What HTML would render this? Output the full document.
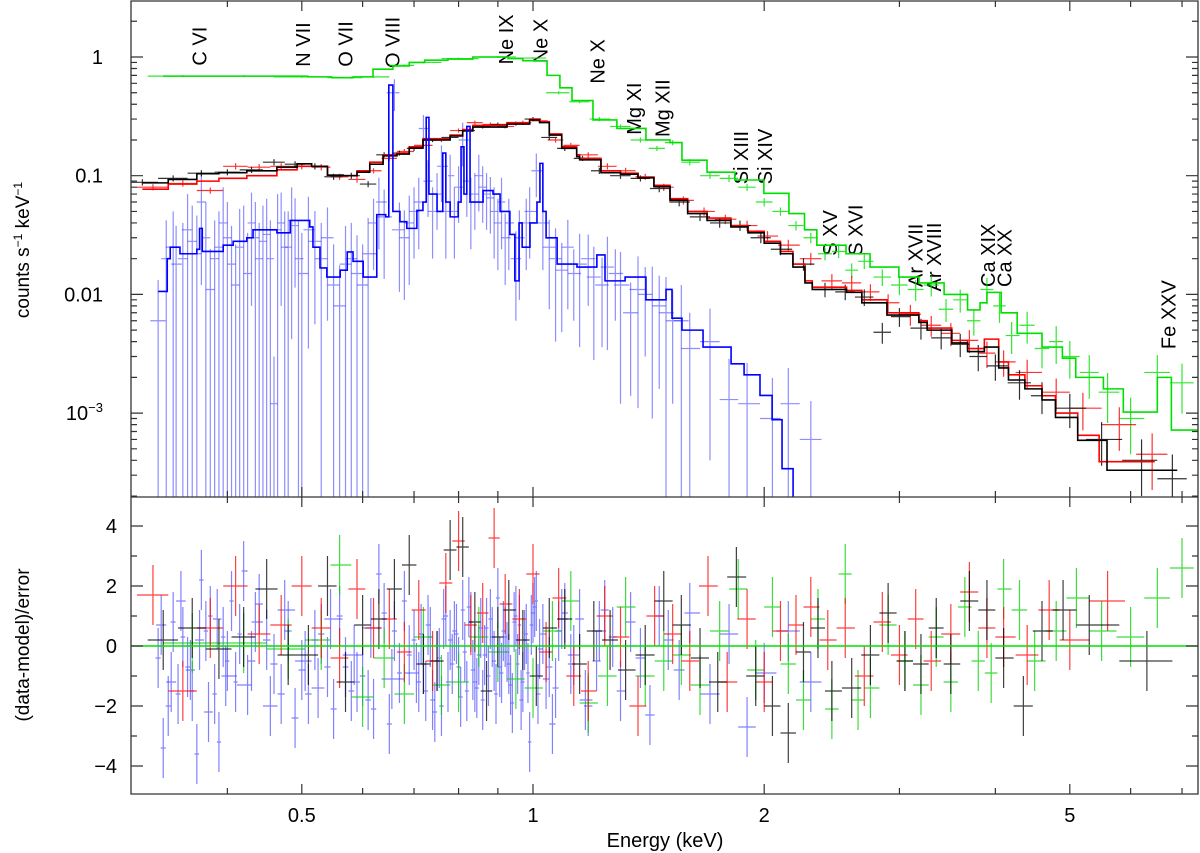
<!DOCTYPE html>
<html><head><meta charset="utf-8"><style>
html,body{margin:0;padding:0;background:#fff}
svg{display:block;font-family:"Liberation Sans",sans-serif}
</style></head><body>
<svg id="chart" width="1200" height="853" viewBox="0 0 1200 853" xmlns="http://www.w3.org/2000/svg">
<g id="lbls"></g>
<g id="topPanel"></g>
<g id="botPanel"></g>
<g id="axes"></g>
<text transform="translate(29,250) rotate(-90)" text-anchor="middle" font-size="19">counts s<tspan font-size="12" dy="-7">−1</tspan><tspan dy="7"> keV</tspan><tspan font-size="12" dy="-7">−1</tspan></text>
<text transform="translate(29,645) rotate(-90)" text-anchor="middle" font-size="19">(data-model)/error</text>
<text x="665" y="847" text-anchor="middle" font-size="20">Energy (keV)</text>
</svg>
<script>
// ---- data ----
const blackModelE=[0.31,0.335,0.365,0.39,0.424,0.464,0.493,0.515,0.54,0.566,0.59,0.613,0.638,0.665,0.69,0.719,0.78,0.81,0.835,0.925,0.99,1.02,1.05,1.09,1.14,1.15,1.226,1.3,1.37,1.437,1.508,1.59,1.685,1.81,1.905,2.0,2.1,2.18,2.26,2.31,2.56,2.68,2.89,3.18,3.26,3.51,3.68,3.87,4.04,4.16,4.37,4.6,4.79,5.12,5.59,6.9];
const blackModelV=[0.087,0.093,0.104,0.106,0.11,0.118,0.126,0.12,0.101,0.1,0.107,0.125,0.147,0.152,0.171,0.2,0.216,0.238,0.257,0.272,0.295,0.28,0.22,0.17,0.145,0.136,0.106,0.103,0.096,0.081,0.062,0.048,0.042,0.037,0.033,0.027,0.022,0.017,0.0125,0.011,0.0104,0.0085,0.0067,0.0058,0.005,0.0039,0.0033,0.0036,0.0024,0.0019,0.0016,0.00129,0.00092,0.00059,0.00033,0.00033];
const redModelE=[0.31,0.335,0.365,0.39,0.424,0.464,0.493,0.515,0.54,0.566,0.59,0.613,0.638,0.665,0.69,0.719,0.78,0.81,0.835,0.925,0.99,1.02,1.05,1.09,1.14,1.15,1.226,1.3,1.37,1.437,1.508,1.59,1.685,1.81,1.905,2.0,2.1,2.18,2.26,2.31,2.56,2.68,2.89,3.18,3.26,3.51,3.68,3.87,4.04,4.16,4.37,4.6,4.79,5.12,5.46,6.45];
const redModelV=[0.077,0.085,0.09,0.095,0.1,0.112,0.12,0.12,0.101,0.1,0.11,0.13,0.15,0.155,0.175,0.205,0.22,0.245,0.265,0.28,0.3,0.285,0.225,0.175,0.15,0.14,0.11,0.105,0.097,0.083,0.064,0.05,0.044,0.038,0.034,0.028,0.023,0.018,0.013,0.0115,0.0108,0.009,0.007,0.006,0.0052,0.0041,0.0035,0.0042,0.0027,0.0021,0.0017,0.0014,0.001,0.00065,0.00039,0.00039];
const greenModelE=[0.33,0.509,0.547,0.583,0.619,0.657,0.69,0.723,0.775,0.835,0.928,0.97,1.043,1.084,1.124,1.197,1.286,1.403,1.508,1.563,1.685,1.832,1.998,2.154,2.257,2.342,2.556,2.747,2.995,3.181,3.43,3.68,3.82,3.90,4.07,4.27,4.60,4.89,5.09,5.53,5.87,6.50,6.78,7.34];
const greenModelV=[0.69,0.68,0.67,0.68,0.79,0.84,0.9,0.94,0.96,1.0,0.97,0.93,0.7,0.55,0.43,0.295,0.25,0.2,0.19,0.135,0.107,0.092,0.071,0.048,0.035,0.026,0.022,0.017,0.014,0.0125,0.01,0.0074,0.0085,0.0104,0.007,0.0047,0.0036,0.0029,0.002,0.0016,0.00102,0.002,0.00072,0.00072];
const blueModelE=[0.325,0.334,0.337,0.347,0.365,0.368,0.371,0.395,0.407,0.424,0.432,0.464,0.483,0.512,0.517,0.528,0.539,0.561,0.573,0.583,0.601,0.626,0.643,0.649,0.657,0.671,0.685,0.706,0.719,0.726,0.732,0.75,0.763,0.770,0.780,0.799,0.806,0.813,0.820,0.828,0.861,0.887,0.906,0.933,0.947,0.959,0.968,0.991,1.012,1.021,1.030,1.040,1.075,1.141,1.211,1.241,1.318,1.403,1.490,1.517,1.563,1.665,1.811,1.883,1.975,2.048,2.110,2.181];
const blueModelV=[0.0106,0.020,0.025,0.022,0.024,0.036,0.023,0.026,0.028,0.030,0.035,0.033,0.042,0.037,0.025,0.0167,0.014,0.016,0.0228,0.019,0.014,0.047,0.045,0.58,0.05,0.041,0.036,0.051,0.06,0.31,0.07,0.05,0.155,0.06,0.045,0.06,0.175,0.07,0.26,0.06,0.075,0.07,0.05,0.032,0.013,0.04,0.025,0.04,0.06,0.127,0.05,0.03,0.018,0.017,0.0215,0.013,0.014,0.009,0.011,0.0063,0.005,0.0036,0.0026,0.0021,0.00141,0.00088,0.00034,0.00015];

const blackDataE=[0.31,0.34,0.37,0.40,0.43,0.46,0.49,0.52,0.55,0.58,0.61,0.64,0.67,0.70,0.74,0.78,0.82,0.86,0.90,0.95,1.0,1.05,1.1,1.16,1.22,1.3,1.38,1.46,1.55,1.65,1.75,1.86,1.98,2.1,2.25,2.4,2.55,2.7,2.85,3.0,3.2,3.4,3.6,3.8,4.0,4.3,4.6,5.0,5.5,6.2,6.8];
const blackDataV=[0.088,0.095,0.105,0.107,0.112,0.13,0.125,0.12,0.098,0.1,0.085,0.15,0.155,0.17,0.2,0.21,0.24,0.26,0.27,0.275,0.3,0.21,0.17,0.14,0.11,0.1,0.095,0.078,0.06,0.045,0.04,0.038,0.03,0.024,0.018,0.011,0.0105,0.0095,0.0048,0.0065,0.0052,0.0043,0.0038,0.0030,0.0025,0.0018,0.0014,0.0011,0.0006,0.0004,0.00028];
const blackDataErr=[0.06,0.06,0.06,0.06,0.06,0.06,0.06,0.06,0.06,0.06,0.06,0.05,0.05,0.05,0.04,0.04,0.04,0.04,0.04,0.04,0.04,0.05,0.05,0.05,0.06,0.06,0.06,0.07,0.08,0.08,0.09,0.1,0.1,0.11,0.12,0.14,0.15,0.16,0.2,0.18,0.2,0.2,0.22,0.25,0.25,0.28,0.3,0.32,0.4,0.5,0.6];
const redDataE=[0.32,0.35,0.38,0.41,0.44,0.47,0.50,0.53,0.56,0.59,0.62,0.65,0.68,0.72,0.76,0.80,0.84,0.88,0.92,0.97,1.02,1.07,1.12,1.18,1.25,1.32,1.4,1.48,1.57,1.67,1.78,1.9,2.02,2.15,2.3,2.45,2.6,2.75,2.9,3.1,3.3,3.5,3.7,3.9,4.1,4.4,4.8,5.2,5.8,6.4];
const redDataV=[0.08,0.086,0.075,0.12,0.118,0.12,0.12,0.118,0.098,0.093,0.11,0.14,0.16,0.18,0.2,0.24,0.28,0.27,0.26,0.28,0.29,0.2,0.18,0.15,0.12,0.11,0.098,0.08,0.062,0.05,0.043,0.038,0.031,0.026,0.02,0.013,0.0125,0.0105,0.0085,0.0068,0.0055,0.0047,0.0041,0.0032,0.0027,0.0022,0.0015,0.0011,0.0008,0.00045];
const redDataErr=[0.06,0.06,0.06,0.06,0.06,0.06,0.06,0.06,0.06,0.06,0.05,0.05,0.05,0.04,0.04,0.04,0.04,0.04,0.04,0.04,0.04,0.05,0.05,0.05,0.06,0.06,0.06,0.07,0.08,0.08,0.09,0.1,0.1,0.11,0.12,0.14,0.15,0.16,0.18,0.2,0.2,0.22,0.22,0.25,0.25,0.28,0.3,0.35,0.4,0.5];
const greenDataE=[0.35,0.42,0.5,0.58,0.62,0.68,0.72,0.8,0.9,1.0,1.08,1.15,1.22,1.3,1.38,1.45,1.52,1.6,1.7,1.8,1.9,2.0,2.1,2.2,2.3,2.4,2.5,2.6,2.7,2.85,3.0,3.15,3.3,3.45,3.6,3.75,3.9,4.05,4.2,4.4,4.6,4.8,5.0,5.3,5.6,6.0,6.5,7.0];
const greenDataV=[0.69,0.69,0.68,0.67,0.68,0.85,0.9,0.97,1.0,0.98,0.5,0.42,0.3,0.26,0.2,0.17,0.19,0.13,0.1,0.095,0.08,0.06,0.05,0.038,0.03,0.022,0.023,0.016,0.019,0.014,0.012,0.011,0.012,0.0075,0.009,0.006,0.011,0.008,0.0045,0.0055,0.0035,0.004,0.003,0.0022,0.0015,0.0009,0.0022,0.0018];
const greenDataErr=[0.02,0.02,0.02,0.02,0.02,0.02,0.02,0.02,0.02,0.02,0.03,0.03,0.04,0.04,0.05,0.05,0.05,0.06,0.06,0.07,0.07,0.08,0.08,0.09,0.1,0.12,0.12,0.14,0.14,0.16,0.18,0.2,0.2,0.22,0.22,0.25,0.25,0.28,0.3,0.3,0.32,0.35,0.35,0.4,0.45,0.5,0.4,0.45];
const blueDataE=[0.325,0.34,0.35,0.36,0.37,0.38,0.39,0.40,0.41,0.42,0.43,0.44,0.45,0.46,0.47,0.48,0.49,0.50,0.52,0.54,0.56,0.58,0.60,0.62,0.63,0.66,0.68,0.70,0.72,0.74,0.76,0.79,0.81,0.84,0.86,0.88,0.90,0.92,0.95,0.98,1.01,1.05,1.09,1.13,1.18,1.23,1.28,1.34,1.40,1.46,1.52,1.6,1.7,1.8,1.9,2.05,2.15,2.3];
const blueDataV=[0.006,0.025,0.02,0.028,0.06,0.011,0.025,0.03,0.012,0.028,0.04,0.02,0.032,0.0012,0.04,0.025,0.038,0.015,0.028,0.03,0.008,0.02,0.012,0.04,0.06,0.5,0.03,0.05,0.25,0.05,0.12,0.05,0.2,0.07,0.08,0.065,0.04,0.03,0.02,0.04,0.11,0.025,0.016,0.015,0.02,0.012,0.015,0.007,0.01,0.008,0.006,0.0035,0.004,0.0013,0.0012,0.0009,0.0012,0.0006];
const blueDataErr=[1.2,1.0,1.0,1.0,0.8,1.2,1.0,1.0,1.2,1.0,0.8,1.0,1.0,1.5,0.8,1.0,0.7,1.2,0.8,0.8,1.2,1.0,1.2,0.6,0.6,0.3,0.7,0.6,0.3,0.6,0.5,0.6,0.4,0.5,0.5,0.5,0.6,0.6,0.7,0.6,0.4,0.7,0.7,0.6,0.6,0.7,0.6,0.8,0.7,0.8,0.8,1.0,0.9,1.2,1.2,1.2,1.0,1.1];
const blueData2E=[0.333,0.343,0.355,0.365,0.375,0.385,0.395,0.405,0.415,0.425,0.435,0.445,0.455,0.465,0.475,0.485,0.495,0.51,0.53,0.55,0.57,0.59,0.61,0.64,0.67,0.69,0.71,0.73,0.75,0.77,0.78,0.80,0.82,0.83,0.85,0.87,0.89,0.91,0.93,0.96,0.99,1.03,1.07,1.11,1.15,1.2,1.25,1.3,1.37,1.43,1.49,1.56];
const blueData2V=[0.02,0.018,0.035,0.022,0.03,0.02,0.04,0.018,0.025,0.015,0.03,0.028,0.02,0.035,0.025,0.042,0.02,0.035,0.02,0.012,0.018,0.015,0.022,0.045,0.035,0.04,0.06,0.09,0.07,0.05,0.1,0.08,0.09,0.06,0.1,0.07,0.05,0.06,0.04,0.03,0.05,0.04,0.02,0.025,0.018,0.014,0.017,0.012,0.011,0.009,0.007,0.006];
const blueData2Err=[1.1,1.1,1.0,1.1,1.0,1.1,1.0,1.1,1.1,1.2,1.0,1.0,1.1,1.0,1.0,0.9,1.1,0.9,1.0,1.2,1.1,1.1,1.0,0.7,0.7,0.7,0.6,0.5,0.5,0.6,0.5,0.5,0.5,0.6,0.5,0.5,0.6,0.6,0.6,0.7,0.6,0.6,0.8,0.7,0.8,0.8,0.8,0.9,0.9,0.9,1.0,1.0];

const blackResE=[0.33,0.36,0.39,0.42,0.45,0.48,0.51,0.54,0.57,0.60,0.63,0.66,0.69,0.72,0.75,0.78,0.81,0.84,0.87,0.90,0.93,0.97,1.01,1.05,1.1,1.15,1.2,1.26,1.32,1.4,1.48,1.56,1.65,1.74,1.84,1.95,2.05,2.15,2.25,2.35,2.45,2.6,2.75,2.9,3.05,3.2,3.35,3.5,3.7,3.9,4.1,4.35,4.6,4.9,5.3,6.3];
const blackResR=[0.2,0.6,-0.1,0.3,1.9,-0.3,-0.3,2.0,-1.2,0.7,0.9,1.9,2.7,-0.6,-0.5,3.2,3.3,0.8,-1.5,0.3,1.2,0.2,-1.0,0.6,0.9,-0.6,0.5,0.2,-0.8,-0.3,1.5,0.7,-0.4,-1.2,2.3,-1.0,-2.0,-2.9,-0.2,0.6,-1.5,-1.4,-0.3,1.1,-0.5,-0.6,0.6,-0.6,1.5,1.2,-0.4,-2.0,0.5,1.2,0.7,-0.5];
const redResE=[0.32,0.35,0.38,0.41,0.44,0.47,0.50,0.53,0.56,0.59,0.62,0.65,0.68,0.71,0.74,0.77,0.80,0.83,0.86,0.89,0.92,0.96,1.0,1.04,1.08,1.13,1.18,1.24,1.3,1.37,1.44,1.52,1.6,1.69,1.79,1.9,2.0,2.1,2.2,2.3,2.42,2.55,2.7,2.85,3.0,3.15,3.3,3.5,3.7,3.9,4.1,4.4,4.7,5.0,5.6];
const redResR=[1.7,-1.5,0.6,2.0,0.4,0.7,2.0,0.6,-0.4,1.9,0.6,0.9,-0.2,1.2,-0.5,2.1,3.5,0.7,1.1,3.6,1.4,0.9,2.4,-0.2,1.6,-1.0,-1.5,1.0,0.3,-2.0,1.0,0.4,-0.5,2.0,-1.2,0.9,-1.2,0.5,0.7,1.3,0.2,0.6,-1.0,0.8,-0.3,0.9,-0.5,0.4,1.8,0.6,0.3,-0.3,1.2,0.2,1.5];
const greenResE=[0.36,0.42,0.48,0.53,0.56,0.6,0.64,0.68,0.72,0.76,0.8,0.85,0.9,0.95,1.0,1.06,1.12,1.18,1.25,1.32,1.4,1.48,1.56,1.65,1.75,1.85,1.95,2.05,2.15,2.25,2.35,2.45,2.55,2.65,2.75,2.9,3.05,3.2,3.35,3.5,3.65,3.8,3.95,4.1,4.3,4.5,4.8,5.1,5.5,6.0,6.5,7.0];
const greenResR=[0.1,0.1,-0.1,0.2,2.7,-1.7,-0.4,-1.6,0.3,-1.3,-1.2,0.3,-0.2,-1.1,-1.4,0.5,1.5,-1.9,-1.0,1.3,-1.0,-0.5,-0.3,-1.3,0.5,1.9,-0.8,1.3,-0.6,-1.8,0.9,-2.1,2.4,-1.8,-1.4,0.7,-0.5,-1.3,0.3,-1.2,1.3,-0.5,-0.9,1.9,1.2,-0.5,0.5,1.6,0.5,0.3,1.6,2.6];
const blueResE=[0.325,0.33,0.335,0.34,0.345,0.35,0.355,0.36,0.365,0.37,0.375,0.38,0.385,0.39,0.395,0.40,0.405,0.41,0.415,0.42,0.43,0.44,0.45,0.46,0.47,0.48,0.49,0.50,0.51,0.52,0.53,0.54,0.55,0.56,0.57,0.58,0.59,0.60,0.61,0.62,0.63,0.64,0.65,0.66,0.67,0.68,0.69,0.70,0.71,0.72,0.73,0.74,0.75,0.76,0.77,0.78,0.79,0.80,0.81,0.82,0.83,0.84,0.85,0.86,0.87,0.88,0.89,0.90,0.91,0.92,0.93,0.94,0.95,0.96,0.97,0.98,0.99,1.0,1.01,1.02,1.04,1.06,1.08,1.1,1.12,1.15,1.18,1.21,1.24,1.27,1.3,1.34,1.38,1.42,1.46,1.5,1.55,1.6,1.7,1.8,1.9,2.0,2.15,2.3];
const blueResR=[-0.4,-3.4,-2.0,0.8,-1.6,0.3,-0.7,-1.5,-3.6,2.2,0.5,1.0,-1.6,-3.2,0.3,-0.5,1.5,-1.2,0.4,2.5,-0.5,1.4,0.2,-0.6,-1.6,0.5,-2.4,-0.8,-1.6,0.2,0.4,-0.7,-2.1,1.0,-0.7,-1.5,-1.2,-1.0,-1.8,-2.1,2.4,1.1,-2.6,0.5,-0.9,1.5,-0.3,0.2,-1.2,-0.6,0.7,-1.8,-0.5,-2.0,1.0,0.2,0.5,-0.7,1.2,-1.5,0.8,-1.2,-0.3,-1.8,0.6,0.9,-0.5,1.6,-0.9,0.3,-0.6,-1.9,1.0,0.7,-1.2,0.4,-3.2,1.1,1.5,-0.1,-1.1,-2.6,0.5,1.1,-0.6,0.9,-2.0,-0.5,1.2,0.3,-1.5,0.8,-0.4,-2.3,1.0,0.2,-0.8,1.1,-1.6,0.4,-2.7,-0.9,0.5,-1.2];
const blueRes2E=[0.328,0.338,0.348,0.358,0.368,0.378,0.388,0.398,0.425,0.435,0.455,0.475,0.505,0.525,0.545,0.585,0.615,0.655,0.705,0.715,0.725,0.735,0.745,0.755,0.765,0.775,0.785,0.795,0.805,0.815,0.825,0.835,0.845,0.855,0.865,0.875,0.885,0.895,0.905,0.915,0.925,0.935,0.945,0.955,0.965,0.975,0.985,0.995,1.005,1.015,1.03,1.05,1.07,1.09,1.13,1.17,1.22];
const blueRes2R=[0.7,-1.2,1.5,-0.8,0.2,-2.2,0.9,-1.0,-1.3,0.8,-2.0,1.2,-0.5,-1.4,0.9,-0.3,0.6,-1.1,-0.9,0.4,-1.5,0.3,-2.2,-0.4,0.9,-1.2,-0.6,0.4,-1.7,-0.2,1.3,-0.8,-1.4,0.6,-0.3,-1.0,0.3,-1.6,-0.7,0.5,-0.2,-1.3,0.8,-0.6,-1.8,0.2,-0.9,0.7,1.3,-1.6,0.4,-0.7,-1.4,0.9,-0.3,-1.8,0.5];

const lineLabels=["C VI","N VII","O VII","O VIII","Ne IX","Ne X","Ne X","Mg XI","Mg XII","Si XIII","Si XIV","S XV","S XVI","Ar XVII","Ar XVIII","Ca XIX","Ca XX","Fe XXV"];
const lineLabelE=[0.367,0.5,0.568,0.654,0.92,1.02,1.21,1.35,1.47,1.86,2.0,2.43,2.62,3.14,3.32,3.9,4.1,6.7];
const lineLabelV=[0.88,0.86,0.86,0.84,0.9,0.92,0.62,0.23,0.22,0.088,0.088,0.022,0.022,0.012,0.011,0.012,0.012,0.0036];
const xTicks=[0.4,0.5,0.6,0.7,0.8,0.9,1,2,3,4,5,6,7];
const xTickLabels={"0.5":"0.5","1":"1","2":"2","5":"5"};
const resTicks=[-4,-3,-2,-1,0,1,2,3,4];

// ---- geometry ----
const L=131,R=1198,T=1,M=497,B=794;
const X=e=>533+768*Math.log10(e);
const Y=v=>57-118.7*Math.log10(v);
const RY=r=>646-30*r;
const NS="http://www.w3.org/2000/svg";
function mk(parent,tag,attrs){const el=document.createElementNS(NS,tag);for(const k in attrs)el.setAttribute(k,attrs[k]);parent.appendChild(el);return el;}
const svgEl=document.getElementById('chart');
const defs=mk(svgEl,'defs',{});
const cp1=mk(defs,'clipPath',{id:'ctop'});mk(cp1,'rect',{x:L,y:T,width:R-L,height:M-T});
const cp2=mk(defs,'clipPath',{id:'cbot'});mk(cp2,'rect',{x:L,y:M,width:R-L,height:B-M});
const topG=document.getElementById('topPanel');topG.setAttribute('clip-path','url(#ctop)');
const botG=document.getElementById('botPanel');botG.setAttribute('clip-path','url(#cbot)');

function halfW(E,i){const a=i>0?E[i]-E[i-1]:E[1]-E[0];const b=i<E.length-1?E[i+1]-E[i]:a;return [a/2,b/2];}
function drawData(E,V,Er,color,name,op){
  const g=mk(topG,'g',{stroke:color,'stroke-width':1.2,opacity:op});
  
  
  const n=Math.min(E.length,V.length,Er.length);
  for(let i=0;i<n;i++){const [a,b]=halfW(E,i);const x=X(E[i]),y=Y(V[i]);
    const lo=Er[i]>=1?M+5:Y(V[i]*(1-Er[i])),hi=Y(V[i]*(1+Er[i]));
    const p=mk(g,'path',{d:`M${X(E[i]-a)},${y}H${X(E[i]+b)}M${x},${lo}V${hi}`,fill:'none'});
    
    }
}
function drawModel(E,V,color,name,w){
  const n=Math.min(E.length,V.length);let d=`M${X(E[0])},${Y(V[0])}`;
  for(let i=1;i<n;i++){d+=`H${X(E[i])}V${Y(V[i])}`;}
  const p=mk(topG,'path',{d:d,stroke:color,'stroke-width':w,fill:'none'});
  
  
}
function drawRes(E,Rr,color,name,op){
  const g=mk(botG,'g',{stroke:color,'stroke-width':1.2,opacity:op});
  
  
  const n=Math.min(E.length,Rr.length);
  for(let i=0;i<n;i++){const [a,b]=halfW(E,i);const x=X(E[i]),y=RY(Rr[i]);
    const p=mk(g,'path',{d:`M${X(E[i]-a)},${y}H${X(E[i]+b)}M${x},${RY(Rr[i]-1)}V${RY(Rr[i]+1)}`,fill:'none'});
    
    }
}
drawData(blueDataE,blueDataV,blueDataErr,'#2020ff','blue-data',0.5);
drawData(blueData2E,blueData2V,blueData2Err,'#2020ff','blue-data-extra',0.5);
drawData(greenDataE,greenDataV,greenDataErr,'#00e000','green-data',0.8);
drawData(redDataE,redDataV,redDataErr,'#ff0000','red-data',0.8);
drawData(blackDataE,blackDataV,blackDataErr,'#000000','black-data',0.8);
drawModel(greenModelE,greenModelV,'#00e000','green-model',1.6);
drawModel(redModelE,redModelV,'#ff0000','red-model',1.6);
drawModel(blackModelE,blackModelV,'#000000','black-model',1.6);
drawModel(blueModelE,blueModelV,'#0000ff','blue-model',1.6);
drawRes(blueResE,blueResR,'#3030ff','blue-residuals',0.6);
drawRes(blueRes2E,blueRes2R,'#3030ff','blue-residuals-extra',0.6);
drawRes(greenResE,greenResR,'#00d000','green-residuals',0.75);
drawRes(redResE,redResR,'#ff0000','red-residuals',0.75);
drawRes(blackResE,blackResR,'#000000','black-residuals',0.75);
const zl=mk(botG,'line',{x1:L,x2:R,y1:RY(0),y2:RY(0),stroke:'#00e000','stroke-width':1.6});



// line labels
const lg=document.getElementById('lbls');
for(let i=0;i<lineLabels.length;i++){
  const x=X(lineLabelE[i])+8,y=Y(lineLabelV[i])+2;
  const t=mk(lg,'text',{transform:`translate(${x},${y}) rotate(-90)`,'font-size':20});
  t.textContent=lineLabels[i];
  
  
}

// axes
const ax=document.getElementById('axes');
const fr=mk(ax,'path',{d:`M${L},${T}H${R}V${B}H${L}ZM${L},${M}H${R}`,fill:'none',stroke:'#333','stroke-width':1.3});


let td='';
xTicks.forEach(e=>{const x=X(e);const big=xTickLabels[String(e)]?10:6;
  td+=`M${x},${T}v${big}M${x},${M}v${-big}M${x},${M}v${big}M${x},${B}v${-big}`;
  if(xTickLabels[String(e)]){const t=mk(ax,'text',{x:x,y:B+28,'text-anchor':'middle','font-size':20});t.textContent=xTickLabels[String(e)];
    
    }
});
for(let d=-4;d<=0;d++){for(let m=1;m<10;m++){const v=m*Math.pow(10,d);const y=Y(v);if(y<T||y>M)continue;const w=m===1?12:6;td+=`M${L},${y}h${w}M${R},${y}h${-w}`;}}
const topLabels=[[1,'1'],[0.1,'0.1'],[0.01,'0.01']];
topLabels.forEach(([v,s])=>{const t=mk(ax,'text',{x:103,y:Y(v)+7,'text-anchor':'end','font-size':20});t.textContent=s;
  
  });
const t3=mk(ax,'text',{x:103,y:Y(0.001)+7,'text-anchor':'end','font-size':20});
t3.textContent='10';
const sup=mk(t3,'tspan',{'font-size':13,dy:-8});
sup.textContent='−3';


resTicks.forEach(r=>{const y=RY(r);const w=r%2===0?12:6;td+=`M${L},${y}h${w}M${R},${y}h${-w}`;
  if(r%2===0){const t=mk(ax,'text',{x:117,y:y+7,'text-anchor':'end','font-size':20});t.textContent=r<0?'−'+(-r):String(r);
    
    }});
const tk=mk(ax,'path',{d:td,stroke:'#333','stroke-width':1.2,fill:'none'});


</script>
</body></html>
